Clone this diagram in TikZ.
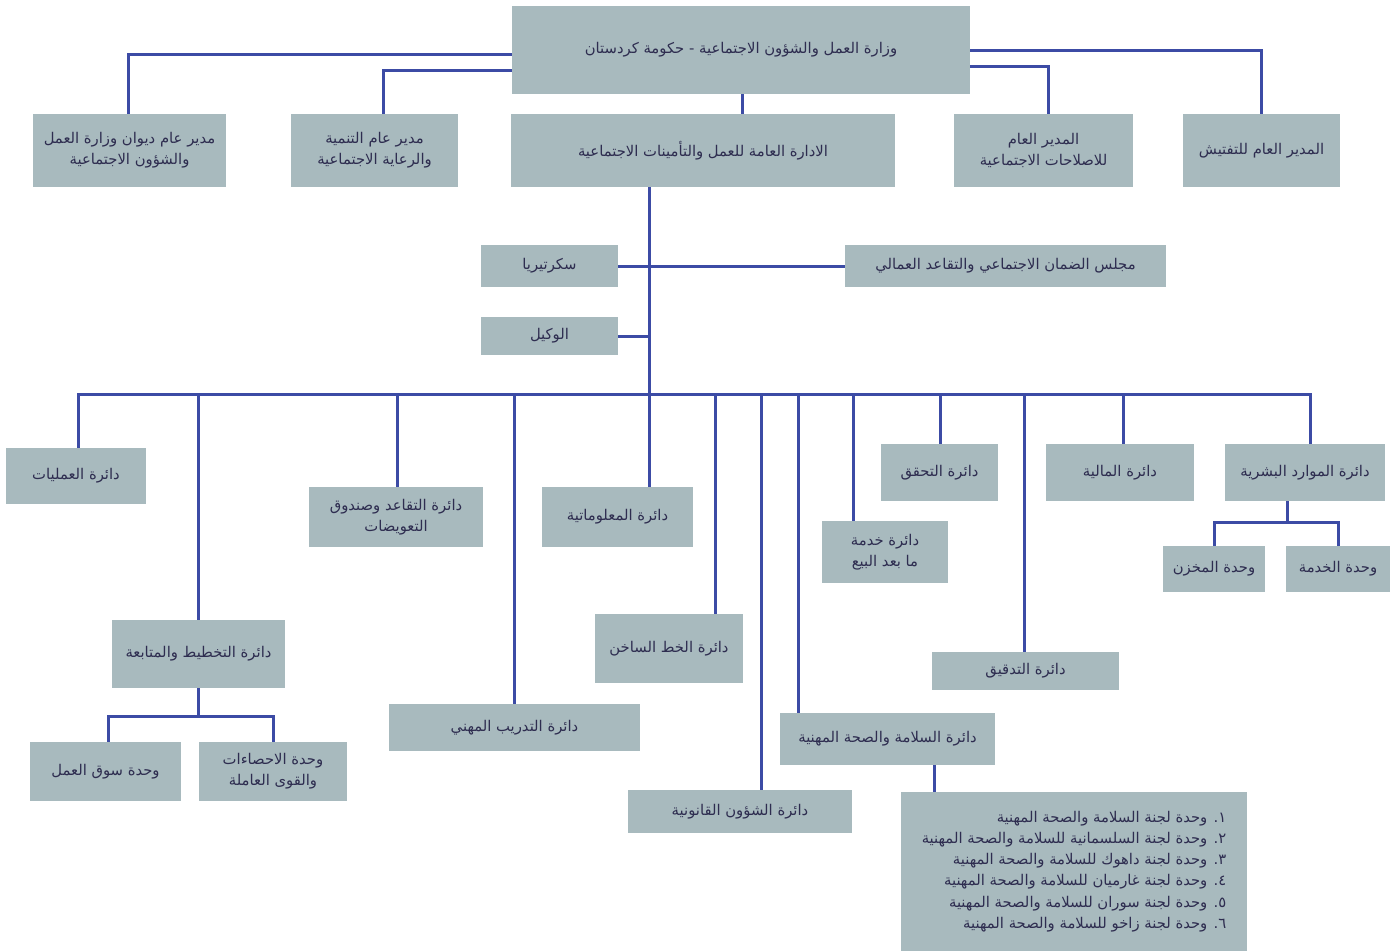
\documentclass[tikz,border=0pt]{standalone}
\usepackage{fontspec}
\newfontfamily\arabicfont[Script=Arabic]{DejaVu Sans}
\TeXXeTstate=1
\definecolor{boxgray}{HTML}{A8BABE}
\definecolor{linkblue}{HTML}{3C4BA5}
\definecolor{textnavy}{HTML}{2E2D50}
\newcommand{\ar}[1]{{\arabicfont\beginR #1\endR}}
\tikzset{
  box/.style={fill=boxgray, text=textnavy, align=center, inner sep=0pt,
    font=\fontsize{14.8}{21.3}\selectfont},
  link/.style={draw=linkblue, line width=3pt}
}
\begin{document}
\begin{tikzpicture}[x=1pt, y=-1pt]
            \useasboundingbox (0,0) rectangle (1397,951);
            % top level
            \node[box, minimum width=458, minimum height=88] (ministry) at (741,50) {\ar{وزارة العمل والشؤون الاجتماعية - حكومة كردستان}};
            \node[box, minimum width=193, minimum height=73] (diwan) at (129.5,150.5) {\ar{مدير عام ديوان وزارة العمل}\\\ar{والشؤون الاجتماعية}};
            \node[box, minimum width=167, minimum height=73] (devel) at (374.5,150.5) {\ar{مدير عام التنمية}\\\ar{والرعاية الاجتماعية}};
            \node[box, minimum width=384, minimum height=73] (admin) at (703,150.5) {\ar{الادارة العامة للعمل والتأمينات الاجتماعية}};
            \node[box, minimum width=179, minimum height=73] (reform) at (1043.5,150.5) {\ar{المدير العام}\\\ar{للاصلاحات الاجتماعية}};
            \node[box, minimum width=157, minimum height=73] (inspect) at (1261.5,150.5) {\ar{المدير العام للتفتيش}};
            \draw[link] (ministry.west |- 0,54) -| (diwan.north -| 128,0);
            \draw[link] (ministry.west |- 0,70) -| (devel.north -| 383,0);
            \draw[link] (ministry.east |- 0,50) -| (inspect.north);
            \draw[link] (ministry.east |- 0,66) -| (reform.north -| 1048,0);
            \draw[link] (ministry.south -| 742,0) -- (admin.north -| 742,0);
            % staff
            \coordinate (hub) at (649,394);
            \node[box, minimum width=137, minimum height=42] (secr) at (549.5,266) {\ar{سكرتيريا}};
            \node[box, minimum width=321, minimum height=42] (council) at (1005.5,266) {\ar{مجلس الضمان الاجتماعي والتقاعد العمالي}};
            \node[box, minimum width=137, minimum height=38] (deputy) at (549.5,336) {\ar{الوكيل}};
            \draw[link] (admin.south -| hub) -- (hub);
            \draw[link] (secr.east) -- (council.west);
            \draw[link] (deputy.east) -- (deputy.east -| hub);
            % departments
            \node[box, minimum width=140, minimum height=56] (ops) at (76,476) {\ar{دائرة العمليات}};
            \node[box, minimum width=173, minimum height=68] (plan) at (198.5,654) {\ar{دائرة التخطيط والمتابعة}};
            \node[box, minimum width=174, minimum height=60] (retire) at (396,517) {\ar{دائرة التقاعد وصندوق}\\\ar{التعويضات}};
            \node[box, minimum width=251, minimum height=47] (training) at (514.5,727.5) {\ar{دائرة التدريب المهني}};
            \node[box, minimum width=151, minimum height=60] (info) at (617.5,517) {\ar{دائرة المعلوماتية}};
            \node[box, minimum width=148, minimum height=69] (hotline) at (669,648.5) {\ar{دائرة الخط الساخن}};
            \node[box, minimum width=224, minimum height=43] (legal) at (740,811.5) {\ar{دائرة الشؤون القانونية}};
            \node[box, minimum width=215, minimum height=52] (safety) at (887.5,739) {\ar{دائرة السلامة والصحة المهنية}};
            \node[box, minimum width=126, minimum height=62] (aftersale) at (885,552) {\ar{دائرة خدمة}\\\ar{ما بعد البيع}};
            \node[box, minimum width=117, minimum height=57] (verify) at (939.5,472.5) {\ar{دائرة التحقق}};
            \node[box, minimum width=187, minimum height=38] (audit) at (1025.5,671) {\ar{دائرة التدقيق}};
            \node[box, minimum width=148, minimum height=57] (finance) at (1120,472.5) {\ar{دائرة المالية}};
            \node[box, minimum width=160, minimum height=57] (hr) at (1305,472.5) {\ar{دائرة الموارد البشرية}};
            \draw[link] (ops.north -| 78,0) |- (hub) -| (hr.north -| 1310,0);
            \foreach \n/\x in {plan/198, retire/397, training/514, info/649,
                hotline/715, legal/761, safety/798, aftersale/853, verify/940,
                audit/1024, finance/1123}
              \draw[link] (hub -| \x,0) -- (\n.north -| \x,0);
            % units
            \node[box, minimum width=102, minimum height=46] (stores) at (1214,569) {\ar{وحدة المخزن}};
            \node[box, minimum width=104, minimum height=46] (service) at (1338,569) {\ar{وحدة الخدمة}};
            \coordinate (hrfork) at (1287,522);
            \draw[link] (hr.south -| hrfork) -- (hrfork);
            \draw[link] (stores.north) |- (hrfork) -| (service.north);
            \node[box, minimum width=151, minimum height=59] (market) at (105.5,771.5) {\ar{وحدة سوق العمل}};
            \node[box, minimum width=148, minimum height=59] (stats) at (273,771.5) {\ar{وحدة الاحصاءات}\\\ar{والقوى العاملة}};
            \coordinate (planfork) at (198,716);
            \draw[link] (plan.south -| planfork) -- (planfork);
            \draw[link] (market.north -| 108,0) |- (planfork) -| (stats.north);
            \node[box, minimum width=346, minimum height=159, align=right] (units) at (1074,871.5) {%
              \ar{١. وحدة لجنة السلامة والصحة المهنية}\\
              \ar{٢. وحدة لجنة السلسمانية للسلامة والصحة المهنية}\\
              \ar{٣. وحدة لجنة داهوك للسلامة والصحة المهنية}\\
              \ar{٤. وحدة لجنة غارميان للسلامة والصحة المهنية}\\
              \ar{٥. وحدة لجنة سوران للسلامة والصحة المهنية}\\
              \ar{٦. وحدة لجنة زاخو للسلامة والصحة المهنية}};
            \draw[link] (safety.south -| 934,0) -- (units.north -| 934,0);
        \end{tikzpicture}
\end{document}
